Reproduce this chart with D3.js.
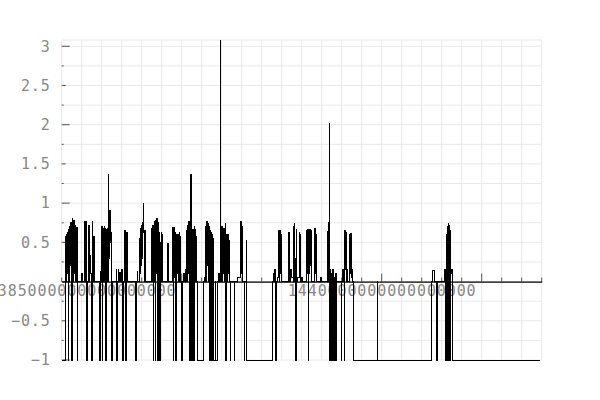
<!DOCTYPE html>
<html>
<head>
<meta charset="utf-8">
<script src="https://cdn.jsdelivr.net/npm/d3@7"></script>
<style>
  body { margin: 0; background: #fff; }
  text { font-family: "DejaVu Sans Mono", monospace; }
</style>
</head>
<body>
<div id="chart"></div>
<script>
// times are in units of 1e15 ns, -1 marks a missing sample
const series = [
  [1381.3,-1],[1381.9,-1],[1382.0,0.58],[1382.1,0],[1382.2,0.6],[1382.3,0.1],[1382.4,0.62],[1382.5,-1],[1382.6,0.66],[1382.7,0],
  [1382.8,0.7],[1382.9,0.2],[1383.0,0.75],[1383.1,0],[1383.2,-1],[1383.3,0.8],[1383.4,0],[1383.5,0.78],[1383.6,0.1],[1383.7,0.72],
  [1383.8,0],[1383.9,0.66],[1384.0,0],[1384.1,0.69],[1384.2,-1],[1384.3,0],[1385.0,0.1],[1385.1,0],[1385.5,0],
  [1385.6,0.77],[1385.7,0],[1385.8,0.77],[1385.9,-1],[1386.0,0],[1386.3,0.72],[1386.4,0],[1386.5,0.33],[1386.6,0.1],[1386.8,-1],
  [1386.9,0.77],[1387.0,0],[1387.1,0.58],[1387.2,0.05],[1387.3,0.58],[1387.4,0],
  [1388.0,0],[1388.3,-1],[1388.4,0.13],[1388.6,0],[1388.7,0.7],[1388.8,-1],[1388.9,0.68],[1389.0,0],[1389.1,0.7],[1389.2,0.1],
  [1389.3,0.68],[1389.4,-1],[1389.5,0.66],[1389.6,0.2],[1389.7,0.68],[1389.8,0],[1389.9,1.37],[1390.0,0.3],[1390.1,0.91],[1390.2,0.5],
  [1390.3,0.62],[1390.4,0],[1390.5,-1],[1390.6,0],
  [1391.3,0.15],[1391.4,-1],[1391.5,0],[1391.7,0.15],[1391.8,0],[1392.0,0.12],[1392.2,0],[1392.3,0.15],[1392.4,0],[1392.5,-1],
  [1392.6,0],[1392.9,0.65],[1393.0,0],[1393.1,-1],[1393.2,0],[1393.3,0.63],[1393.4,0],
  [1394.6,0],[1394.9,-1],[1395.0,0],[1395.2,0.13],[1395.3,0],[1395.6,0.55],[1395.7,0.1],[1395.8,0.68],[1395.9,0.2],[1396.0,0.72],
  [1396.1,0.3],[1396.2,0.75],[1396.3,1.0],[1396.4,0.62],[1396.5,0],[1396.6,0.65],[1396.7,0],
  [1397.6,0],[1397.8,0.68],[1397.9,0],[1398.0,0.72],[1398.1,-1],[1398.2,0.6],[1398.3,0],[1398.4,0.77],[1398.5,-1],[1398.6,0.78],
  [1398.7,0.1],[1398.8,0.8],[1398.9,-1],[1399.0,0.75],[1399.1,0],[1399.2,0.62],[1399.3,-1],[1399.4,0.5],[1399.5,0],[1399.6,0.62],
  [1399.7,0.1],[1399.8,0.6],[1399.9,0],[1400.7,0],[1400.8,0.49],[1400.9,0],
  [1401.5,0],[1401.6,0.15],[1401.7,0.69],[1401.8,-1],[1401.9,0.69],[1402.0,0.05],[1402.1,0.62],[1402.2,-1],[1402.3,0.6],[1402.4,0.1],
  [1402.6,0.6],[1402.7,0],[1402.9,0.62],[1403.0,0.1],[1403.1,0.58],[1403.2,0],[1403.3,-1],[1403.4,0],[1403.6,0.1],[1403.8,0],
  [1404.0,0.15],[1404.1,0],
  [1404.2,0.65],[1404.3,0],[1404.4,0.72],[1404.5,0.1],[1404.6,0.76],[1404.7,0.3],[1404.8,-1],[1404.9,0.7],[1405.0,1.37],[1405.1,-1],
  [1405.2,0.6],[1405.3,-1],[1405.4,0.67],[1405.5,-1],[1405.6,0.7],[1405.7,0],[1405.8,0.67],[1405.9,0.1],[1406.0,0.58],[1406.1,0],
  [1406.2,-1],[1407.3,-1],[1407.4,0],[1407.5,0.05],[1407.6,0],
  [1407.7,0.7],[1407.8,0],[1407.9,0.76],[1408.0,0.2],[1408.1,0.74],[1408.2,0],[1408.3,0.7],[1408.4,-1],[1408.5,0.65],[1408.6,-1],
  [1408.7,0.62],[1408.8,-1],[1408.9,0.6],[1409.0,-1],[1409.1,0.55],[1409.2,-1],[1409.4,-1],[1409.5,0],[1409.6,-1],[1409.8,-1],
  [1409.9,0],[1410.0,0.1],[1410.2,0],[1410.4,3.08],[1410.5,0.7],[1410.6,0],[1410.8,0.7],[1410.9,0.1],[1411.0,0.68],[1411.1,0],
  [1411.3,0.74],[1411.4,-1],[1411.5,0.6],[1411.6,0],[1411.8,0.6],[1411.9,0.1],[1412.0,0.52],[1412.1,0],[1412.2,-1],[1412.3,0],
  [1413.0,-1],[1413.1,0],[1413.5,0.05],[1414.1,0.05],[1414.2,0.77],[1414.3,0.1],[1414.4,0.7],[1414.5,0],[1414.8,-1],[1414.9,0],
  [1415.1,0],[1415.2,0.53],[1415.3,-1],[1419.8,-1],[1419.9,0],
  [1420.1,0.1],[1420.2,0],[1420.4,0.15],[1420.5,0],[1420.6,-1],[1420.7,0],[1420.9,0.05],[1421.1,0.65],[1421.2,0],[1421.3,0.65],
  [1421.4,0.1],[1421.5,0.6],[1421.6,0],[1423.0,0.62],[1423.1,0],[1423.3,0.15],[1423.5,0.05],[1423.8,0.7],[1423.9,0],[1424.0,0.74],
  [1424.1,0.3],[1424.2,-1],[1424.3,0.66],[1424.4,0],[1424.6,0.05],[1424.9,0.62],[1425.0,0.1],[1425.1,0.6],[1425.2,0],[1425.3,0.05],
  [1425.4,0],
  [1426.1,0],[1426.2,0.65],[1426.3,0.1],[1426.4,0.66],[1426.5,-1],[1426.6,0.65],[1426.7,0.1],[1426.8,0.66],[1426.9,0.2],[1427.0,0.65],
  [1427.1,0],[1427.6,0.68],[1427.7,0.1],[1427.8,0.68],[1427.9,0.2],[1428.0,0.6],[1428.1,0],[1428.8,0.05],[1428.9,0],
  [1429.8,0],[1430.0,0.64],[1430.1,0],[1430.2,0.75],[1430.4,2.01],[1430.5,-1],[1430.6,0.15],[1430.7,-1],[1430.8,0.1],[1430.9,-1],
  [1431.0,0.15],[1431.1,-1],[1431.2,0.05],[1431.3,-1],[1431.4,0],[1431.5,-1],[1431.6,0.1],[1431.7,-1],[1431.8,0],
  [1432.6,-1],[1432.7,0],[1432.9,0.15],[1433.0,0],[1433.1,-1],[1433.2,0.65],[1433.3,0.15],[1433.4,0.62],[1433.5,0],[1433.7,0.15],
  [1433.8,0],[1434.1,0.6],[1434.2,0.1],[1434.3,0.61],[1434.4,0.05],[1434.5,0.15],[1434.7,0],[1434.9,-1],[1439.1,-1],[1439.2,0],
  [1439.3,-1],[1449.1,-1],[1449.2,0],[1449.4,0.14],[1449.6,0.1],[1449.7,0],[1450.1,-1],[1450.2,0],[1451.4,0],[1451.6,0.15],
  [1451.7,-1],[1451.8,0.6],[1451.9,-1],[1452.0,0.7],[1452.1,-1],[1452.2,0.74],[1452.3,0.2],[1452.4,0.72],[1452.5,-1],[1452.6,0.65],
  [1452.7,0.1],[1452.8,0.15],[1452.9,0],[1453.0,-1],[1469.1,-1]
];
const timeUnit = 1e15;

const xLabelTicks = [1385e15, 1440e15];
const yLabelTicks = [-1, -0.5, 0.5, 1, 1.5, 2, 2.5, 3];
const yGridTicks = [-1, -0.75, -0.5, -0.25, 0, 0.25, 0.5, 0.75, 1, 1.25, 1.5, 1.75, 2, 2.25, 2.5, 2.75, 3];
const yDomain = [-1, 3.08];

const width = 600, height = 400;
const margin = { top: 40, right: 58.3, bottom: 40, left: 61.7 };

// x ticks are spaced 15 per labelled interval
const xTickStep = (xLabelTicks[1] - xLabelTicks[0]) / 15;
const xStart = xLabelTicks[0] - xTickStep;
const xTicks = d3.range(25).map(k => xStart + k * xTickStep);

const x = d3.scaleLinear()
    .domain([xStart, xStart + 24 * xTickStep])
    .range([margin.left, width - margin.right]);

const y = d3.scaleLinear()
    .domain(yDomain)
    .range([height - margin.bottom, margin.top]);

const svg = d3.select("#chart")
    .append("svg")
    .attr("width", width)
    .attr("height", height);

// grid
const grid = svg.append("g")
    .attr("stroke", "#e8e8e8")
    .attr("stroke-width", 1);

grid.selectAll(".vgrid")
    .data(xTicks)
    .enter().append("line")
    .attr("x1", d => x(d)).attr("x2", d => x(d))
    .attr("y1", margin.top).attr("y2", height - margin.bottom);

grid.selectAll(".hgrid")
    .data(yGridTicks.concat([yDomain[1]]))
    .enter().append("line")
    .attr("x1", margin.left).attr("x2", width - margin.right)
    .attr("y1", d => y(d)).attr("y2", d => y(d));

// y axis labels
svg.append("g")
    .attr("transform", "translate(" + margin.left + ",0)")
    .call(d3.axisLeft(y).tickValues(yLabelTicks).tickSize(0).tickPadding(11).tickFormat(d3.format("")))
    .call(g => g.select(".domain").remove())
    .selectAll("text")
    .attr("fill", "#888")
    .attr("font-size", "15px")
    .attr("letter-spacing", "0.9px")
    .attr("font-family", "DejaVu Sans Mono");

// x axis labels (the line is drawn later, over the data)
svg.append("g")
    .attr("transform", "translate(0," + y(0) + ")")
    .call(d3.axisBottom(x).tickValues(xLabelTicks).tickSize(0).tickPadding(4).tickFormat(d => String(d)))
    .call(g => g.select(".domain").remove())
    .selectAll("text")
    .attr("fill", "#888")
    .attr("font-size", "15px")
    .attr("letter-spacing", "0.9px")
    .attr("font-family", "DejaVu Sans Mono");

// tick marks
svg.append("g")
    .selectAll("line")
    .data(xTicks)
    .enter().append("line")
    .attr("x1", d => x(d)).attr("x2", d => x(d))
    .attr("y1", y(0))
    .attr("y2", (d, i) => y(0) - (i % 5 === 1 ? 8 : 4))
    .attr("stroke", "#555");

svg.append("g")
    .selectAll("line")
    .data(yGridTicks)
    .enter().append("line")
    .attr("x1", margin.left)
    .attr("x2", d => margin.left + (d % 1 === 0 ? 8 : d % 0.5 === 0 ? 4 : 2))
    .attr("y1", d => y(d)).attr("y2", d => y(d))
    .attr("stroke", "#555");

// data line, drawn as steps so the changes are vertical
const line = d3.line()
    .curve(d3.curveStepAfter)
    .x(d => x(d[0] * timeUnit))
    .y(d => y(d[1]));

svg.append("path")
    .datum(series)
    .attr("fill", "none")
    .attr("stroke", "#000")
    .attr("stroke-width", 1)
    .attr("shape-rendering", "crispEdges")
    .attr("d", line);

// x axis line at zero
svg.append("g")
    .attr("transform", "translate(0," + y(0) + ")")
    .call(d3.axisBottom(x).tickValues([]).tickSizeOuter(0))
    .select(".domain")
    .attr("stroke", "#000")
    .attr("stroke-width", 1.2);
</script>
</body>
</html>
